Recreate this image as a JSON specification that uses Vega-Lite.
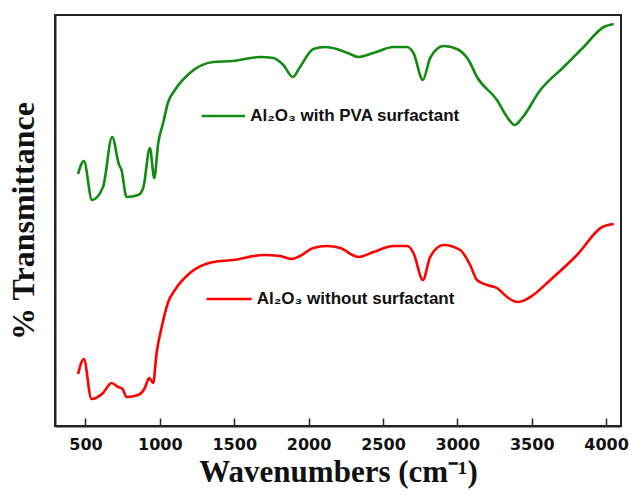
{
  "$schema": "https://vega.github.io/schema/vega-lite/v6.json",
  "width": 566,
  "height": 411,
  "autosize": {"type": "none"},
  "padding": {"left": 55, "top": 15, "right": 9, "bottom": 69},
  "background": "white",
  "config": {
    "view": {"stroke": "#222", "strokeWidth": 2},
    "axis": {"grid": false}
  },
  "datasets": {
    "spectra": [
      {"wn": 450, "t": 252, "series": "PVA"}, {"wn": 489, "t": 265, "series": "PVA"}, {"wn": 544, "t": 226, "series": "PVA"},
      {"wn": 618, "t": 239, "series": "PVA"}, {"wn": 679, "t": 289, "series": "PVA"}, {"wn": 726, "t": 261, "series": "PVA"},
      {"wn": 742, "t": 256, "series": "PVA"}, {"wn": 776, "t": 229, "series": "PVA"}, {"wn": 854, "t": 231, "series": "PVA"},
      {"wn": 888, "t": 238, "series": "PVA"}, {"wn": 933, "t": 278, "series": "PVA"}, {"wn": 962, "t": 248, "series": "PVA"},
      {"wn": 989, "t": 283, "series": "PVA"}, {"wn": 1022, "t": 303, "series": "PVA"}, {"wn": 1056, "t": 324, "series": "PVA"},
      {"wn": 1101, "t": 336, "series": "PVA"}, {"wn": 1202, "t": 353, "series": "PVA"}, {"wn": 1359, "t": 364, "series": "PVA"},
      {"wn": 1494, "t": 365, "series": "PVA"}, {"wn": 1673, "t": 369, "series": "PVA"}, {"wn": 1763, "t": 368, "series": "PVA"},
      {"wn": 1830, "t": 361, "series": "PVA"}, {"wn": 1893, "t": 349, "series": "PVA"}, {"wn": 1942, "t": 359, "series": "PVA"},
      {"wn": 2032, "t": 377, "series": "PVA"}, {"wn": 2110, "t": 379, "series": "PVA"}, {"wn": 2189, "t": 377, "series": "PVA"},
      {"wn": 2279, "t": 372, "series": "PVA"}, {"wn": 2335, "t": 369, "series": "PVA"}, {"wn": 2436, "t": 373, "series": "PVA"},
      {"wn": 2570, "t": 379, "series": "PVA"}, {"wn": 2660, "t": 379, "series": "PVA"}, {"wn": 2705, "t": 373, "series": "PVA"},
      {"wn": 2768, "t": 346, "series": "PVA"}, {"wn": 2817, "t": 368, "series": "PVA"}, {"wn": 2907, "t": 380, "series": "PVA"},
      {"wn": 2997, "t": 377, "series": "PVA"}, {"wn": 3075, "t": 366, "series": "PVA"}, {"wn": 3132, "t": 349, "series": "PVA"},
      {"wn": 3266, "t": 326, "series": "PVA"}, {"wn": 3334, "t": 309, "series": "PVA"}, {"wn": 3385, "t": 301, "series": "PVA"},
      {"wn": 3435, "t": 308, "series": "PVA"}, {"wn": 3558, "t": 336, "series": "PVA"}, {"wn": 3715, "t": 359, "series": "PVA"},
      {"wn": 3849, "t": 379, "series": "PVA"}, {"wn": 3984, "t": 399, "series": "PVA"}, {"wn": 4051, "t": 402, "series": "PVA"},

      {"wn": 450, "t": 52, "series": "none"}, {"wn": 489, "t": 67, "series": "none"}, {"wn": 540, "t": 27, "series": "none"},
      {"wn": 618, "t": 33, "series": "none"}, {"wn": 675, "t": 43, "series": "none"}, {"wn": 719, "t": 39, "series": "none"},
      {"wn": 749, "t": 37, "series": "none"}, {"wn": 776, "t": 29, "series": "none"}, {"wn": 854, "t": 31, "series": "none"},
      {"wn": 899, "t": 38, "series": "none"}, {"wn": 928, "t": 48, "series": "none"}, {"wn": 955, "t": 43, "series": "none"},
      {"wn": 978, "t": 73, "series": "none"}, {"wn": 1011, "t": 98, "series": "none"}, {"wn": 1056, "t": 124, "series": "none"},
      {"wn": 1101, "t": 136, "series": "none"}, {"wn": 1202, "t": 153, "series": "none"}, {"wn": 1359, "t": 164, "series": "none"},
      {"wn": 1494, "t": 166, "series": "none"}, {"wn": 1695, "t": 171, "series": "none"}, {"wn": 1808, "t": 170, "series": "none"},
      {"wn": 1886, "t": 167, "series": "none"}, {"wn": 1942, "t": 170, "series": "none"}, {"wn": 2032, "t": 178, "series": "none"},
      {"wn": 2122, "t": 180, "series": "none"}, {"wn": 2212, "t": 178, "series": "none"}, {"wn": 2335, "t": 169, "series": "none"},
      {"wn": 2436, "t": 174, "series": "none"}, {"wn": 2570, "t": 180, "series": "none"}, {"wn": 2665, "t": 180, "series": "none"},
      {"wn": 2705, "t": 173, "series": "none"}, {"wn": 2768, "t": 146, "series": "none"}, {"wn": 2817, "t": 169, "series": "none"},
      {"wn": 2907, "t": 181, "series": "none"}, {"wn": 3019, "t": 176, "series": "none"}, {"wn": 3086, "t": 161, "series": "none"},
      {"wn": 3132, "t": 146, "series": "none"}, {"wn": 3199, "t": 141, "series": "none"}, {"wn": 3266, "t": 138, "series": "none"},
      {"wn": 3334, "t": 129, "series": "none"}, {"wn": 3405, "t": 124, "series": "none"}, {"wn": 3490, "t": 129, "series": "none"},
      {"wn": 3625, "t": 146, "series": "none"}, {"wn": 3804, "t": 171, "series": "none"}, {"wn": 3973, "t": 199, "series": "none"},
      {"wn": 4051, "t": 202, "series": "none"}
    ],
    "legend": [
      {"series": "PVA", "x1": 1281, "x2": 1572, "t": 310, "xt": 1607, "label": "Al₂O₃ with PVA surfactant"},
      {"series": "none", "x1": 1314, "x2": 1617, "t": 127, "xt": 1651, "label": "Al₂O₃ without surfactant"}
    ]
  },
  "layer": [
    {
      "data": {"name": "spectra"},
      "mark": {"type": "line", "interpolate": "monotone", "strokeWidth": 2.6},
      "encoding": {
        "x": {
          "field": "wn", "type": "quantitative",
          "scale": {"domain": [295, 4100], "nice": false, "zero": false},
          "title": "Wavenumbers (cm⁻¹)",
          "axis": {
            "values": [500, 1000, 1500, 2000, 2500, 3000, 3500, 4000],
            "format": "d",
            "tickSize": -8, "tickWidth": 1.5, "tickColor": "#222",
            "domainColor": "#222", "domainWidth": 2,
            "labelFont": "DejaVu Sans", "labelFontWeight": "bold", "labelFontSize": 16, "labelColor": "#111",
            "labelPadding": 18, "labelFlush": false,
            "titleFont": "Liberation Serif", "titleFontWeight": "bold", "titleFontSize": 31, "titleColor": "#111",
            "titlePadding": 5
          }
        },
        "y": {
          "field": "t", "type": "quantitative",
          "scale": {"domain": [0, 411], "nice": false},
          "title": "% Transmittance",
          "axis": {
            "labels": false, "ticks": false,
            "domainColor": "#222", "domainWidth": 2,
            "titleFont": "Liberation Serif", "titleFontWeight": "bold", "titleFontSize": 32, "titleColor": "#111",
            "titlePadding": 15
          }
        },
        "color": {
          "field": "series", "type": "nominal",
          "scale": {"domain": ["PVA", "none"], "range": ["#138a13", "#ff0000"]},
          "legend": null
        }
      }
    },
    {
      "data": {"name": "legend"},
      "mark": {"type": "rule", "strokeWidth": 2.6},
      "encoding": {
        "x": {"field": "x1", "type": "quantitative", "title": "Wavenumbers (cm⁻¹)"},
        "x2": {"field": "x2"},
        "y": {"field": "t", "type": "quantitative", "title": "% Transmittance"},
        "color": {"field": "series", "type": "nominal", "legend": null}
      }
    },
    {
      "data": {"name": "legend"},
      "mark": {"type": "text", "align": "left", "baseline": "middle", "font": "Liberation Sans", "fontWeight": "bold", "fontSize": 17, "color": "#111"},
      "encoding": {
        "x": {"field": "xt", "type": "quantitative", "title": "Wavenumbers (cm⁻¹)"},
        "y": {"field": "t", "type": "quantitative", "title": "% Transmittance"},
        "text": {"field": "label"}
      }
    }
  ]
}
